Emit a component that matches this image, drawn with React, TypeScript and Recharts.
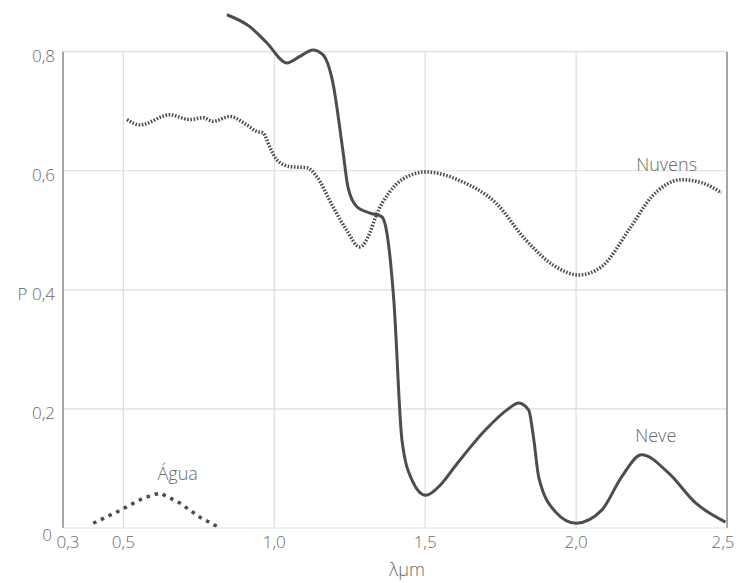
import React from 'react';
import { LineChart, Line, XAxis, YAxis, ReferenceLine, ReferenceDot } from 'recharts';

// wavelength (µm) and reflectance
const neveX = [0.843, 0.919, 0.975, 1.042, 1.085, 1.128, 1.161, 1.194, 1.227, 1.244, 1.273, 1.317, 1.356, 1.373, 1.396, 1.423, 1.456, 1.502, 1.55, 1.601, 1.70, 1.77, 1.81, 1.843, 1.86, 1.876, 1.932, 2.0, 2.085, 2.151, 2.217, 2.307, 2.396, 2.495];
const neveY = [0.862, 0.842, 0.815, 0.781, 0.792, 0.803, 0.795, 0.748, 0.635, 0.573, 0.540, 0.529, 0.523, 0.496, 0.383, 0.148, 0.081, 0.055, 0.072, 0.105, 0.165, 0.198, 0.21, 0.198, 0.148, 0.086, 0.027, 0.008, 0.030, 0.086, 0.123, 0.092, 0.042, 0.010];

const nuvensX = [0.512, 0.555, 0.654, 0.72, 0.764, 0.797, 0.853, 0.909, 0.942, 0.962, 0.985, 1.009, 1.052, 1.108, 1.141, 1.194, 1.24, 1.283, 1.317, 1.336, 1.38, 1.423, 1.502, 1.621, 1.734, 1.833, 1.932, 2.009, 2.085, 2.174, 2.25, 2.35, 2.416, 2.482];
const nuvensY = [0.686, 0.677, 0.694, 0.686, 0.689, 0.683, 0.691, 0.677, 0.666, 0.664, 0.640, 0.618, 0.607, 0.605, 0.590, 0.54, 0.50, 0.472, 0.496, 0.523, 0.563, 0.585, 0.598, 0.582, 0.546, 0.484, 0.439, 0.425, 0.439, 0.50, 0.556, 0.585, 0.58, 0.563];

const aguaX = [0.40, 0.479, 0.565, 0.621, 0.687, 0.754, 0.82];
const aguaY = [0.008, 0.027, 0.05, 0.059, 0.042, 0.018, 0.0];

const xTicks = [0.3, 0.5, 1.0, 1.5, 2.0, 2.5];
const yTicks = [0, 0.2, 0.4, 0.6, 0.8];

const toRows = (xs: number[], ys: number[]) => xs.map((x, i) => ({ x, y: ys[i] }));
const neve = toRows(neveX, neveY);
const nuvens = toRows(nuvensX, nuvensY);
const agua = toRows(aguaX, aguaY);

const FONT = '"Open Sans", sans-serif';
const TEXT = '#6a6a6a';
const GRID = '#dedede';
const INK = '#4d4d4d';

const fmt = (v: number) => (v === 0 ? '0' : v.toFixed(1).replace('.', ','));

const XTick = ({ x, y, payload }: any) => (
  <text x={x + (payload.value === 0.3 ? 5 : payload.value === 2.5 ? -4 : 0)} y={y} dy={12} textAnchor="middle" fill={TEXT} fontSize={17} fontFamily={FONT} fontWeight={300}>
    {fmt(payload.value)}
  </text>
);

const YTick = ({ x, y, payload }: any) => {
  const v = payload.value;
  return (
    <text x={v === 0 ? x - 3 : x} y={y} dy={v === 0 ? 13 : 10} textAnchor="end" fill={TEXT} fontSize={17} fontFamily={FONT} fontWeight={300}>
      {v === 0.4 ? 'P 0,4' : fmt(v)}
    </text>
  );
};

const labelStyle = { fill: TEXT, fontSize: 18, fontFamily: FONT, fontWeight: 300 };

export default function App() {
  return (
    <div style={{ position: 'absolute', left: 0, top: 0, background: '#fff' }}>
      <LineChart width={739} height={583} margin={{ top: 10, right: 12, bottom: 0, left: 23 }}>
        <XAxis
          type="number"
          dataKey="x"
          domain={[0.3, 2.5]}
          ticks={xTicks}
          tick={<XTick />}
          tickLine={false}
          axisLine={{ stroke: GRID }}
          height={55}
          allowDuplicatedCategory={false}
          label={{ value: 'λμm', position: 'insideBottom', offset: 7, dx: 12, ...labelStyle }}
        />
        <YAxis
          type="number"
          dataKey="y"
          domain={[0, 0.87]}
          ticks={yTicks}
          tick={<YTick />}
          tickLine={false}
          axisLine={false}
          width={40}
        />
        {yTicks.slice(1).map((v) => (
          <ReferenceLine key={`h${v}`} segment={[{ x: 0.3, y: v }, { x: 2.5, y: v }]} stroke={GRID} strokeWidth={1.2} />
        ))}
        {xTicks.slice(1, -1).map((v) => (
          <ReferenceLine key={`v${v}`} segment={[{ x: v, y: 0 }, { x: v, y: 0.8 }]} stroke={GRID} strokeWidth={1.2} />
        ))}
        <ReferenceLine segment={[{ x: 0.3, y: 0 }, { x: 0.3, y: 0.8 }]} stroke="#888" strokeWidth={1.5} />
        <ReferenceLine segment={[{ x: 2.5, y: 0 }, { x: 2.5, y: 0.8 }]} stroke="#888" strokeWidth={1.5} />

        <Line data={nuvens} dataKey="y" type="monotone" stroke={INK} strokeWidth={3.5} strokeDasharray="1.6 1.6" dot={false} isAnimationActive={false} />
        <Line data={agua} dataKey="y" type="linear" stroke={INK} strokeWidth={3.5} strokeDasharray="3.5 5" dot={false} isAnimationActive={false} />
        <Line data={neve} dataKey="y" type="monotone" stroke={INK} strokeWidth={3} dot={false} isAnimationActive={false} />

        <ReferenceDot x={2.3} y={0.61} r={0} fill="none" stroke="none" label={{ value: 'Nuvens', position: 'center', ...labelStyle }} />
        <ReferenceDot x={2.264} y={0.155} r={0} fill="none" stroke="none" label={{ value: 'Neve', position: 'center', ...labelStyle }} />
        <ReferenceDot x={0.68} y={0.091} r={0} fill="none" stroke="none" label={{ value: 'Água', position: 'center', ...labelStyle }} />
      </LineChart>
    </div>
  );
}
